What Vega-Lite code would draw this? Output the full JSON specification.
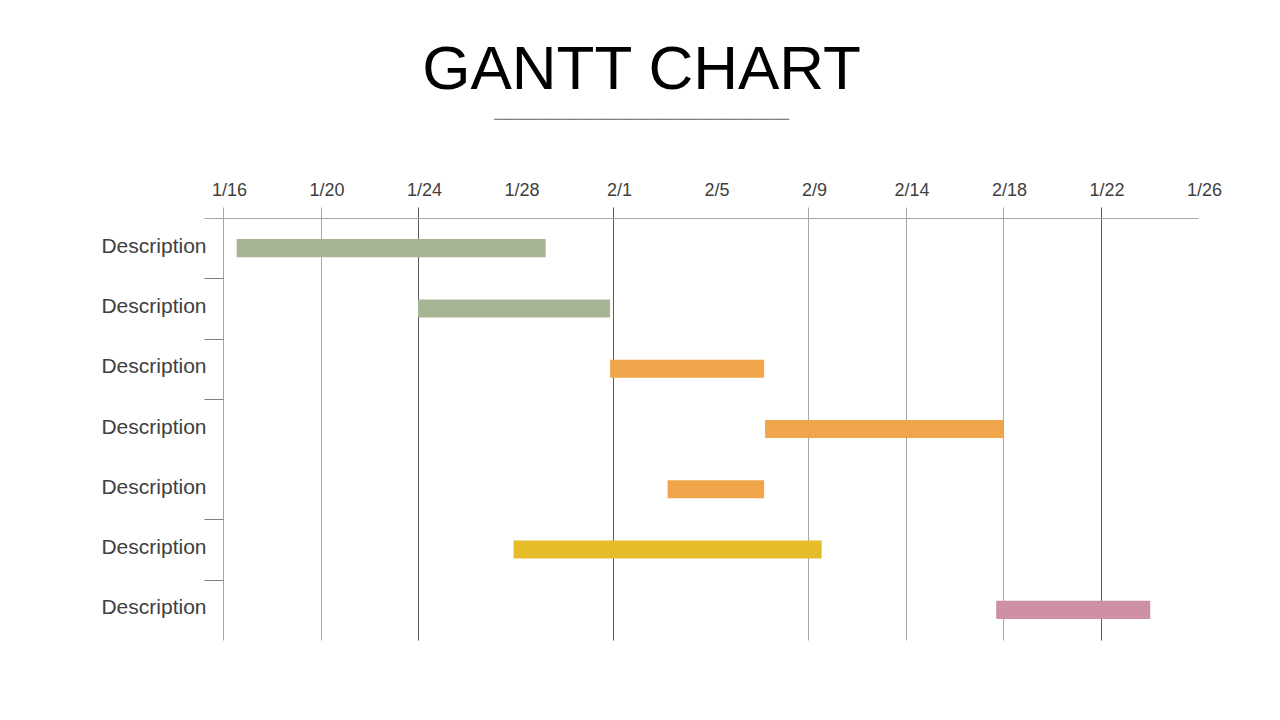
{
  "$schema": "https://vega.github.io/schema/vega-lite/v6.json",
  "width": 975,
  "height": 422,
  "padding": {"left": 100, "top": 39, "right": 5, "bottom": 5},
  "background": "white",
  "title": {
    "text": "GANTT CHART",
    "subtitle": "───────────────────────────────────",
    "font": "Liberation Sans",
    "fontSize": 62,
    "fontWeight": "normal",
    "color": "#000000",
    "subtitleFont": "DejaVu Sans Mono",
    "subtitleFontSize": 14,
    "subtitleColor": "#808080",
    "subtitlePadding": 11,
    "anchor": "middle",
    "dx": -69,
    "offset": 53
  },
  "data": {
    "values": [
      {"task": 1, "start": 0.14, "end": 3.31, "phase": "A"},
      {"task": 2, "start": 2.0, "end": 3.97, "phase": "A"},
      {"task": 3, "start": 3.97, "end": 5.55, "phase": "B"},
      {"task": 4, "start": 5.56, "end": 8.01, "phase": "B"},
      {"task": 5, "start": 4.56, "end": 5.55, "phase": "B"},
      {"task": 6, "start": 2.98, "end": 6.14, "phase": "C"},
      {"task": 7, "start": 7.93, "end": 9.51, "phase": "D"}
    ]
  },
  "mark": {"type": "bar", "height": {"band": 0.3}},
  "encoding": {
    "y": {
      "field": "task",
      "type": "nominal",
      "sort": [1, 2, 3, 4, 5, 6, 7],
      "scale": {"paddingInner": 0, "paddingOuter": 0},
      "axis": {
        "title": null,
        "domain": false,
        "grid": false,
        "tickBand": "extent",
        "tickSize": 19,
        "tickColor": {"condition": {"test": "datum.value == null", "value": "#a6a6a6"}, "value": "#7f7f7f"},
        "tickOpacity": {"condition": {"test": "datum.value === 4 || datum.value === 7", "value": 0}, "value": 1},
        "labelExpr": "datum.value == null ? '' : 'Description'",
        "labelFont": "Liberation Sans",
        "labelFontSize": 21,
        "labelColor": "#404040",
        "labelPadding": -2,
        "labelOffset": -2
      }
    },
    "x": {
      "field": "start",
      "type": "quantitative",
      "scale": {"domain": [0, 10], "nice": false, "zero": false},
      "axis": {
        "orient": "top",
        "title": null,
        "values": [0, 1, 2, 3, 4, 5, 6, 7, 8, 9, 10],
        "labelExpr": "['1/16','1/20','1/24','1/28','2/1','2/5','2/9','2/14','2/18','1/22','1/26'][datum.value]",
        "labelFlush": false,
        "labelOffset": 6,
        "labelFont": "Liberation Sans",
        "labelFontSize": 18,
        "labelColor": "#404040",
        "labelPadding": 8,
        "domainColor": "#a6a6a6",
        "tickSize": 11,
        "grid": true,
        "gridColor": {"condition": {"test": "indexof([2,4,9], datum.value) >= 0", "value": "#595959"}, "value": "#a6a6a6"},
        "gridOpacity": {"condition": {"test": "indexof([3,5,10], datum.value) >= 0", "value": 0}, "value": 1},
        "tickColor": {"condition": {"test": "indexof([2,4,9], datum.value) >= 0", "value": "#595959"}, "value": "#a6a6a6"},
        "tickOpacity": {"condition": {"test": "indexof([3,5,10], datum.value) >= 0", "value": 0}, "value": 1}
      }
    },
    "x2": {"field": "end"},
    "color": {
      "field": "phase",
      "type": "nominal",
      "scale": {"domain": ["A", "B", "C", "D"], "range": ["#a6b593", "#f1a54a", "#e6bc2b", "#cf90a6"]},
      "legend": null
    }
  },
  "config": {"view": {"stroke": null}}
}
